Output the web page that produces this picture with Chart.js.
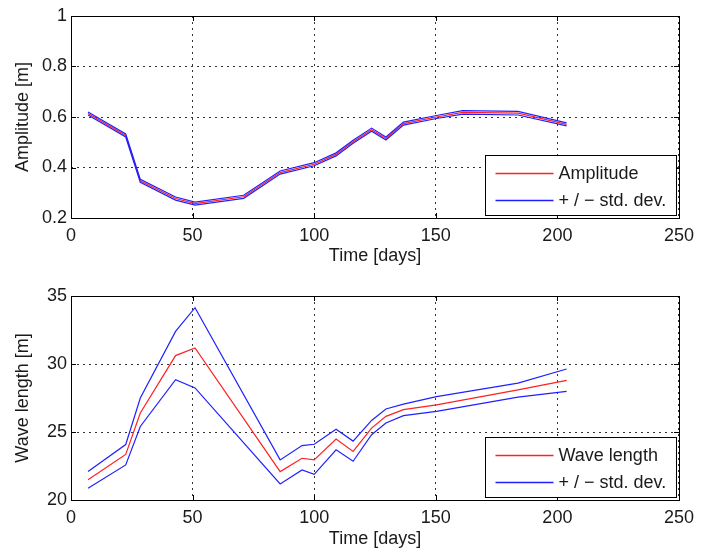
<!DOCTYPE html>
<html>
<head>
<meta charset="utf-8">
<script src="https://cdn.jsdelivr.net/npm/chart.js@4/dist/chart.umd.min.js"></script>
<style>
  body { margin: 0; background: #fff; }
  #wrap { position: relative; width: 701px; height: 550px; }
  canvas { position: absolute; left: 0; }
  #amp-chart { top: 0; }
  #wave-chart { top: 280px; }
</style>
</head>
<body>
<div id="wrap">
  <canvas id="amp-chart" width="701" height="267"></canvas>
  <canvas id="wave-chart" width="701" height="270"></canvas>
</div>
<script>
// sample days (shared x positions); null = no sample in that panel
const days = [7, 22.5, 28.5, 43, 51, 71, 86, 95, 100, 109, 116, 123.6, 129.5, 136.7, 150.3, 161, 183.8, 203.8];

const amplitude      = [0.614, 0.527, 0.347, 0.277, 0.257, 0.284, 0.380, null, 0.413, 0.452, 0.502, 0.550, 0.515, 0.574, 0.600, 0.618, 0.615, 0.571];
const amplitudeUpper = [0.620, 0.533, 0.353, 0.283, 0.263, 0.290, 0.386, null, 0.419, 0.458, 0.508, 0.556, 0.521, 0.580, 0.606, 0.625, 0.622, 0.577];
const amplitudeLower = [0.608, 0.521, 0.341, 0.271, 0.251, 0.278, 0.374, null, 0.407, 0.446, 0.496, 0.544, 0.509, 0.568, 0.594, 0.611, 0.608, 0.565];

const waveLength      = [21.48, 23.35, 26.40, 30.62, 31.18, null, 22.09, 23.07, 22.95, 24.48, 23.57, 25.29, 26.15, 26.64, 27.00, null, 28.10, 28.80];
const waveLengthUpper = [22.09, 24.08, 27.50, 32.40, 34.14, null, 22.95, 24.00, 24.10, 25.21, 24.33, 25.85, 26.69, 27.05, 27.60, null, 28.60, 29.63];
const waveLengthLower = [20.86, 22.58, 25.41, 28.85, 28.24, null, 21.18, 22.21, 21.89, 23.69, 22.85, 24.80, 25.66, 26.20, 26.52, null, 27.57, 27.99];

const xTicks = [0, 50, 100, 150, 200, 250];
const ampTicks = [0.2, 0.4, 0.6, 0.8, 1];
const waveTicks = [20, 25, 30, 35];

const RED = "#ff2020";
const BLUE = "#2020ff";
const TEXT = "#1a1a1a";

Chart.defaults.font.family = "'Liberation Sans', Arial, sans-serif";
Chart.defaults.font.size = 18;
Chart.defaults.color = TEXT;

function points(values) {
  return days.map((d, i) => ({ x: d, y: values[i] }));
}

// frame, inward tick marks and the in-plot legend box
const framePlugin = {
  id: "frame",
  afterDraw(chart) {
    const ctx = chart.ctx;
    const a = chart.chartArea;
    const xs = chart.scales.x;
    const ys = chart.scales.y;
    ctx.save();
    ctx.strokeStyle = "#000";
    ctx.lineWidth = 1;
    ctx.strokeRect(Math.round(a.left) + 0.5, Math.round(a.top) + 0.5, Math.round(a.right - a.left), Math.round(a.bottom - a.top));

    ctx.beginPath();
    xs.ticks.forEach((t) => {
      const px = Math.round(xs.getPixelForValue(t.value)) + 0.5;
      ctx.moveTo(px, a.bottom); ctx.lineTo(px, a.bottom - 5);
      ctx.moveTo(px, a.top); ctx.lineTo(px, a.top + 5);
    });
    ys.ticks.forEach((t) => {
      const py = Math.round(ys.getPixelForValue(t.value)) + 0.5;
      ctx.moveTo(a.left, py); ctx.lineTo(a.left + 5, py);
      ctx.moveTo(a.right, py); ctx.lineTo(a.right - 5, py);
    });
    ctx.stroke();

    // legend: main series first, then the std. dev. entry
    const items = chart.data.datasets
      .filter((ds) => ds.legendOrder !== undefined)
      .sort((p, q) => p.legendOrder - q.legendOrder);
    const w = 191, h = 60;
    const left = Math.round(a.right - 3 - w) + 0.5;
    const top = Math.round(a.bottom - 3 - h) + 0.5;
    ctx.fillStyle = "#fff";
    ctx.fillRect(left, top, w, h);
    ctx.strokeStyle = "#000";
    ctx.strokeRect(left, top, w, h);
    ctx.font = "18px 'Liberation Sans', Arial, sans-serif";
    ctx.textBaseline = "middle";
    items.forEach((ds, i) => {
      const y = Math.round(top + 17 + i * 27.5) + 0.5;
      ctx.strokeStyle = ds.borderColor;
      ctx.lineWidth = 1.5;
      ctx.beginPath();
      ctx.moveTo(left + 10, y);
      ctx.lineTo(left + 68, y);
      ctx.stroke();
      ctx.fillStyle = TEXT;
      ctx.fillText(ds.label, left + 73, y + 1);
    });
    ctx.restore();
  }
};

function buildPanel(canvasId, mainLabel, main, upper, lower, yTicks, yTitle, axisHeight) {
  const yMin = yTicks[0];
  const yMax = yTicks[yTicks.length - 1];
  return new Chart(document.getElementById(canvasId), {
    type: "line",
    data: {
      datasets: [
        { label: "+ / \u2212 std. dev.", data: points(upper), borderColor: BLUE, legendOrder: 1 },
        { label: "lower", data: points(lower), borderColor: BLUE },
        { label: mainLabel, data: points(main), borderColor: RED, legendOrder: 0 }
      ].map((ds) => Object.assign(ds, { borderWidth: 1.2, pointRadius: 0, tension: 0, fill: false, spanGaps: true }))
    },
    options: {
      responsive: false,
      animation: false,
      devicePixelRatio: 1,
      layout: { padding: { left: 12, right: 18, top: 16, bottom: 0 } },
      plugins: { legend: { display: false }, tooltip: { enabled: false } },
      scales: {
        x: {
          type: "linear",
          min: 0,
          max: 250,
          afterBuildTicks: (scale) => { scale.ticks = xTicks.map((v) => ({ value: v })); },
          afterFit: (scale) => { scale.height = axisHeight; },
          ticks: { padding: 7, color: TEXT, callback: (v) => String(v) },
          grid: { drawTicks: false, color: "#333", lineWidth: 1 },
          border: { display: false, dash: [2, 4] },
          title: { display: true, text: "Time [days]", padding: 0, color: TEXT }
        },
        y: {
          min: yMin,
          max: yMax,
          afterBuildTicks: (scale) => { scale.ticks = yTicks.map((v) => ({ value: v })); },
          afterFit: (scale) => { scale.width = 59; },
          ticks: { padding: 4, color: TEXT, callback: (v) => String(v) },
          grid: { drawTicks: false, color: "#333", lineWidth: 1 },
          border: { display: false, dash: [2, 4] },
          title: { display: true, text: yTitle, padding: 0, color: TEXT }
        }
      }
    },
    plugins: [framePlugin]
  });
}

buildPanel("amp-chart", "Amplitude", amplitude, amplitudeUpper, amplitudeLower, ampTicks, "Amplitude [m]", 49);
buildPanel("wave-chart", "Wave length", waveLength, waveLengthUpper, waveLengthLower, waveTicks, "Wave length [m]", 50);
</script>
</body>
</html>
